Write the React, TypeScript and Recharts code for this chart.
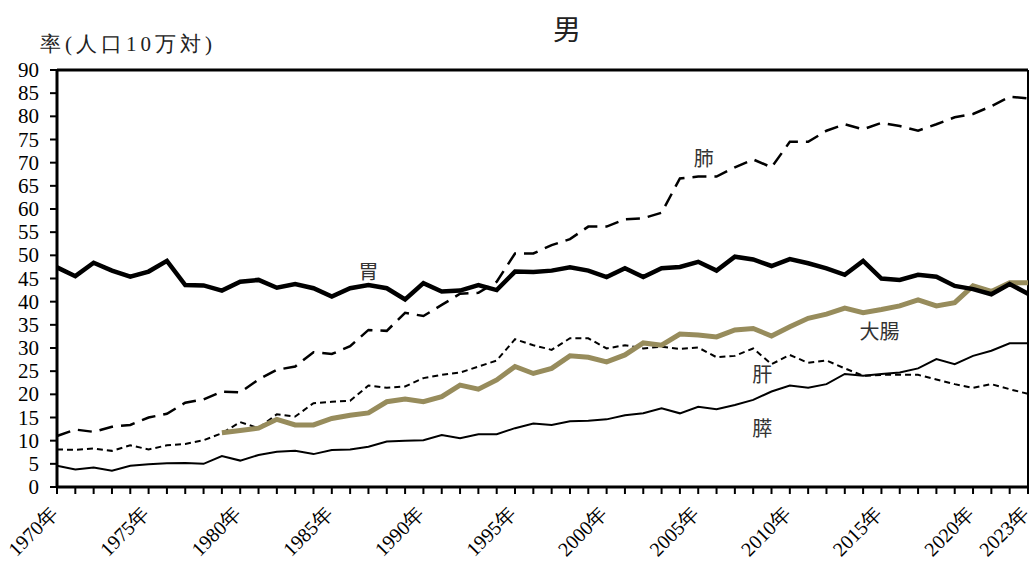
import React from 'react';
import { LineChart, Line, XAxis, YAxis, ReferenceLine, ReferenceDot } from 'recharts';

const years = [1970,1971,1972,1973,1974,1975,1976,1977,1978,1979,1980,1981,1982,1983,1984,1985,1986,1987,1988,1989,1990,1991,1992,1993,1994,1995,1996,1997,1998,1999,2000,2001,2002,2003,2004,2005,2006,2007,2008,2009,2010,2011,2012,2013,2014,2015,2016,2017,2018,2019,2020,2021,2022,2023];
const labeledYears = [1970,1975,1980,1985,1990,1995,2000,2005,2010,2015,2020,2023];
const yTicks = [0,5,10,15,20,25,30,35,40,45,50,55,60,65,70,75,80,85,90];

const stomach = [47.4,45.5,48.4,46.7,45.4,46.5,48.8,43.6,43.5,42.4,44.3,44.7,43.0,43.8,42.9,41.1,42.9,43.6,42.9,40.5,44.0,42.2,42.4,43.6,42.5,46.5,46.4,46.7,47.4,46.7,45.3,47.2,45.3,47.2,47.5,48.6,46.7,49.7,49.1,47.7,49.2,48.3,47.2,45.8,48.8,45.0,44.7,45.8,45.4,43.4,42.7,41.6,43.8,41.7];
const lung = [11.0,12.4,11.9,13.0,13.4,15.0,15.8,18.2,18.9,20.6,20.4,23.2,25.3,26.0,29.1,28.7,30.4,33.9,33.7,37.6,36.9,39.3,41.7,41.9,44.3,50.4,50.4,52.2,53.5,56.2,56.2,57.8,58.0,59.2,66.6,67.0,67.0,69.0,70.7,69.0,74.5,74.5,76.9,78.3,77.2,78.6,77.9,76.9,78.3,79.8,80.5,82.2,84.2,83.9];
const liver = [8.1,8.0,8.3,7.8,9.0,8.1,9.0,9.3,10.1,11.6,14.0,12.7,15.7,15.2,18.1,18.4,18.6,21.9,21.4,21.7,23.5,24.2,24.7,26.0,27.3,31.9,30.6,29.6,32.1,32.1,29.9,30.6,29.9,30.3,29.8,30.1,28.0,28.3,29.9,26.5,28.5,26.8,27.3,25.6,24.0,24.2,24.2,24.2,23.2,22.2,21.4,22.2,21.1,20.1];
const colorectal = [null,null,null,null,null,null,null,null,null,11.7,12.2,12.7,14.6,13.4,13.4,14.8,15.5,16.0,18.4,19.0,18.4,19.5,22.0,21.1,23.1,26.0,24.5,25.6,28.3,28.0,27.0,28.5,31.1,30.6,33.0,32.8,32.4,33.9,34.2,32.6,34.6,36.4,37.3,38.6,37.6,38.3,39.1,40.4,39.1,39.8,43.4,42.2,44.1,44.1];
const pancreas = [4.6,3.8,4.2,3.5,4.6,4.9,5.1,5.2,5.0,6.7,5.7,6.9,7.6,7.8,7.1,8.0,8.1,8.7,9.8,10.0,10.1,11.2,10.5,11.4,11.4,12.7,13.7,13.4,14.2,14.3,14.6,15.5,15.9,17.0,15.9,17.3,16.8,17.7,18.8,20.6,21.9,21.4,22.2,24.4,24.0,24.4,24.7,25.6,27.6,26.5,28.3,29.4,31.0,31.0];

const seriesLabels = [
  { text: '胃', x: 1987, y: 46.8 },
  { text: '肺', x: 2005.3, y: 71.2 },
  { text: '大腸', x: 2014.9, y: 33.7 },
  { text: '肝', x: 2008.5, y: 24.4 },
  { text: '膵', x: 2008.5, y: 12.9 },
];

const data = years.map((yr, i) => ({
  year: yr,
  stomach: stomach[i],
  lung: lung[i],
  liver: liver[i],
  colorectal: colorectal[i],
  pancreas: pancreas[i],
}));

const serif = "'Liberation Serif', 'Times New Roman', 'DejaVu Serif', serif";
const sans = "'Noto Sans CJK JP', 'Noto Sans', sans-serif";

const XTick = (props: any) => {
  const { x, y, payload } = props;
  if (!labeledYears.includes(payload.value)) return null;
  return (
    <g transform={`translate(${x - 3},${y + 14})`}>
      <text x={0} y={0} textAnchor="end" dominantBaseline="central" transform="rotate(-45)" style={{ fontFamily: serif, fontSize: 20 }} fill="#000">
        {`${payload.value}年`}
      </text>
    </g>
  );
};

const YTick = (props: any) => {
  const { y, payload } = props;
  return (
    <text x={39} y={y} textAnchor="end" dominantBaseline="central" style={{ fontFamily: serif, fontSize: 21 }} fill="#000">
      {payload.value}
    </text>
  );
};

const LabelText = (text: string) => (props: any) => {
  const { viewBox } = props;
  const cx = viewBox.x + (viewBox.width || 0) / 2;
  const cy = viewBox.y + (viewBox.height || 0) / 2;
  return (
    <text x={cx} y={cy} textAnchor="middle" dominantBaseline="central" style={{ fontFamily: sans, fontSize: 20 }} fill="#333">
      {text}
    </text>
  );
};

export default function App() {
  return (
    <div style={{ position: 'absolute', left: 0, top: 0, width: 1032, height: 562, background: '#fff' }}>
      <div style={{ position: 'absolute', left: 0, top: 10, width: 1134, textAlign: 'center', fontFamily: sans, fontSize: 28, color: '#222', lineHeight: '36px' }}>男</div>
      <div style={{ position: 'absolute', left: 40, top: 30, fontFamily: serif, fontSize: 21, letterSpacing: 4, color: '#222', lineHeight: '28px', whiteSpace: 'nowrap' }}>率(人口10万対)</div>
      <div style={{ position: 'absolute', left: 0, top: 0 }}>
        <LineChart width={1032} height={562} data={data} margin={{ top: 70, right: 4, bottom: 0, left: 0 }}>
          <XAxis
            dataKey="year"
            type="number"
            domain={[1970, 2023]}
            ticks={years}
            interval={0}
            tick={<XTick />}
            tickLine={{ stroke: '#000', strokeWidth: 2 }}
            tickSize={7}
            axisLine={{ stroke: '#000', strokeWidth: 3 }}
            height={75}
          />
          <YAxis
            type="number"
            domain={[0, 90]}
            ticks={yTicks}
            interval={0}
            width={57}
            tickSize={7}
            tickLine={{ stroke: '#000', strokeWidth: 2 }}
            axisLine={{ stroke: '#000', strokeWidth: 3 }}
            tick={<YTick />}
          />
          <ReferenceLine y={90} stroke="#000" strokeWidth={3} ifOverflow="extendDomain" />
          <ReferenceLine x={2023} stroke="#000" strokeWidth={2} />
          <Line dataKey="lung" stroke="#000" strokeWidth={2.5} strokeDasharray="14 8" dot={false} isAnimationActive={false} />
          <Line dataKey="liver" stroke="#000" strokeWidth={2} strokeDasharray="6 4" dot={false} isAnimationActive={false} />
          <Line dataKey="pancreas" stroke="#000" strokeWidth={2} dot={false} isAnimationActive={false} />
          <Line dataKey="colorectal" stroke="#978c5c" strokeWidth={5} dot={false} isAnimationActive={false} connectNulls={false} />
          <Line dataKey="stomach" stroke="#000" strokeWidth={4.5} dot={false} isAnimationActive={false} />
          {seriesLabels.map((l) => (
            <ReferenceDot key={l.text} x={l.x} y={l.y} r={0} fill="none" stroke="none" label={LabelText(l.text)} />
          ))}
        </LineChart>
      </div>
    </div>
  );
}
